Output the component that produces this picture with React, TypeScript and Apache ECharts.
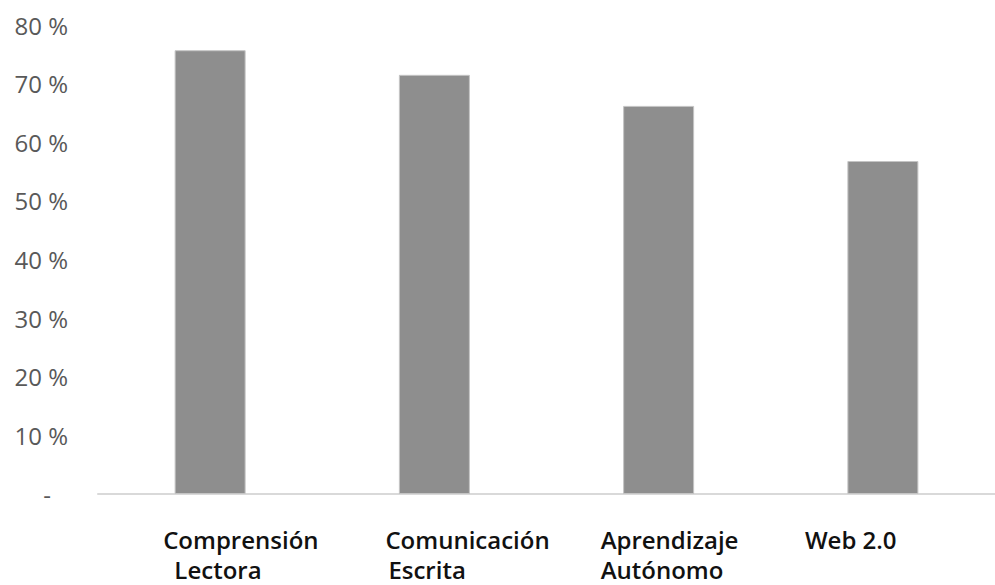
import React, { useEffect, useRef } from "react";
import * as echarts from "echarts";

const categories = ["Comprensión\n Lectora", "Comunicación\nEscrita", "Aprendizaje\nAutónomo", "Web 2.0"];
const values = [75.7, 71.5, 66.2, 56.8];
const yTicks = [0, 10, 20, 30, 40, 50, 60, 70, 80];

// style: left spacer (px) per category label, per line
const labelSpacers = [
  [53, 58],
  [51, 54],
  [42, 42],
  [22, 22],
];

export default function App() {
  const ref = useRef<HTMLDivElement>(null);
  useEffect(() => {
    if (!ref.current) return;
    const chart = echarts.init(ref.current, null, { renderer: "svg" });
    const rich: Record<string, any> = {
      t: {
        fontSize: 24,
        fontFamily: "Open Sans",
        fontWeight: 600,
        color: "#111",
        align: "left",
        lineHeight: 30,
      },
    };
    labelSpacers.forEach((row, i) => {
      row.forEach((w, j) => {
        rich[`s${i}_${j}`] = { width: w, align: "left", fontSize: 24, lineHeight: 30 };
      });
    });
    chart.setOption({
      animation: false,
      backgroundColor: "#ffffff",
      grid: { left: 98, right: -14, top: 25, bottom: 91, containLabel: false },
      xAxis: {
        type: "category",
        data: categories,
        axisLine: { show: true, lineStyle: { color: "#d9d9d9", width: 2 } },
        axisTick: { show: false },
        axisLabel: {
          interval: 0,
          margin: 30,
          align: "center",
          width: 200,
          overflow: "none",
          formatter: (value: string, index: number) =>
            value
              .split("\n")
              .map((l, j) => `{s${index}_${j}| }{t|${l}}`)
              .join("\n"),
          rich,
        },
      },
      yAxis: {
        type: "value",
        min: yTicks[0],
        max: yTicks[yTicks.length - 1],
        interval: 10,
        splitLine: { show: false },
        axisLine: { show: false },
        axisTick: { show: false },
        axisLabel: {
          margin: 30,
          fontSize: 24,
          fontFamily: "Open Sans",
          color: "#595959",
          formatter: (v: number) => (v === 0 ? "{d|-}" : `${v} %`),
          rich: {
            d: { fontSize: 24, fontFamily: "Open Sans", color: "#595959", padding: [0, 17, 0, 0] },
          },
        },
      },
      series: [
        {
          type: "bar",
          data: values,
          barWidth: 71,
          itemStyle: { color: "#8e8e8e", borderColor: "#c4c4c4", borderWidth: 1 },
        },
      ],
    });
    return () => chart.dispose();
  }, []);
  return (
    <div
      ref={ref}
      style={{ position: "fixed", left: 0, top: 0, width: 995, height: 585 }}
    />
  );
}
